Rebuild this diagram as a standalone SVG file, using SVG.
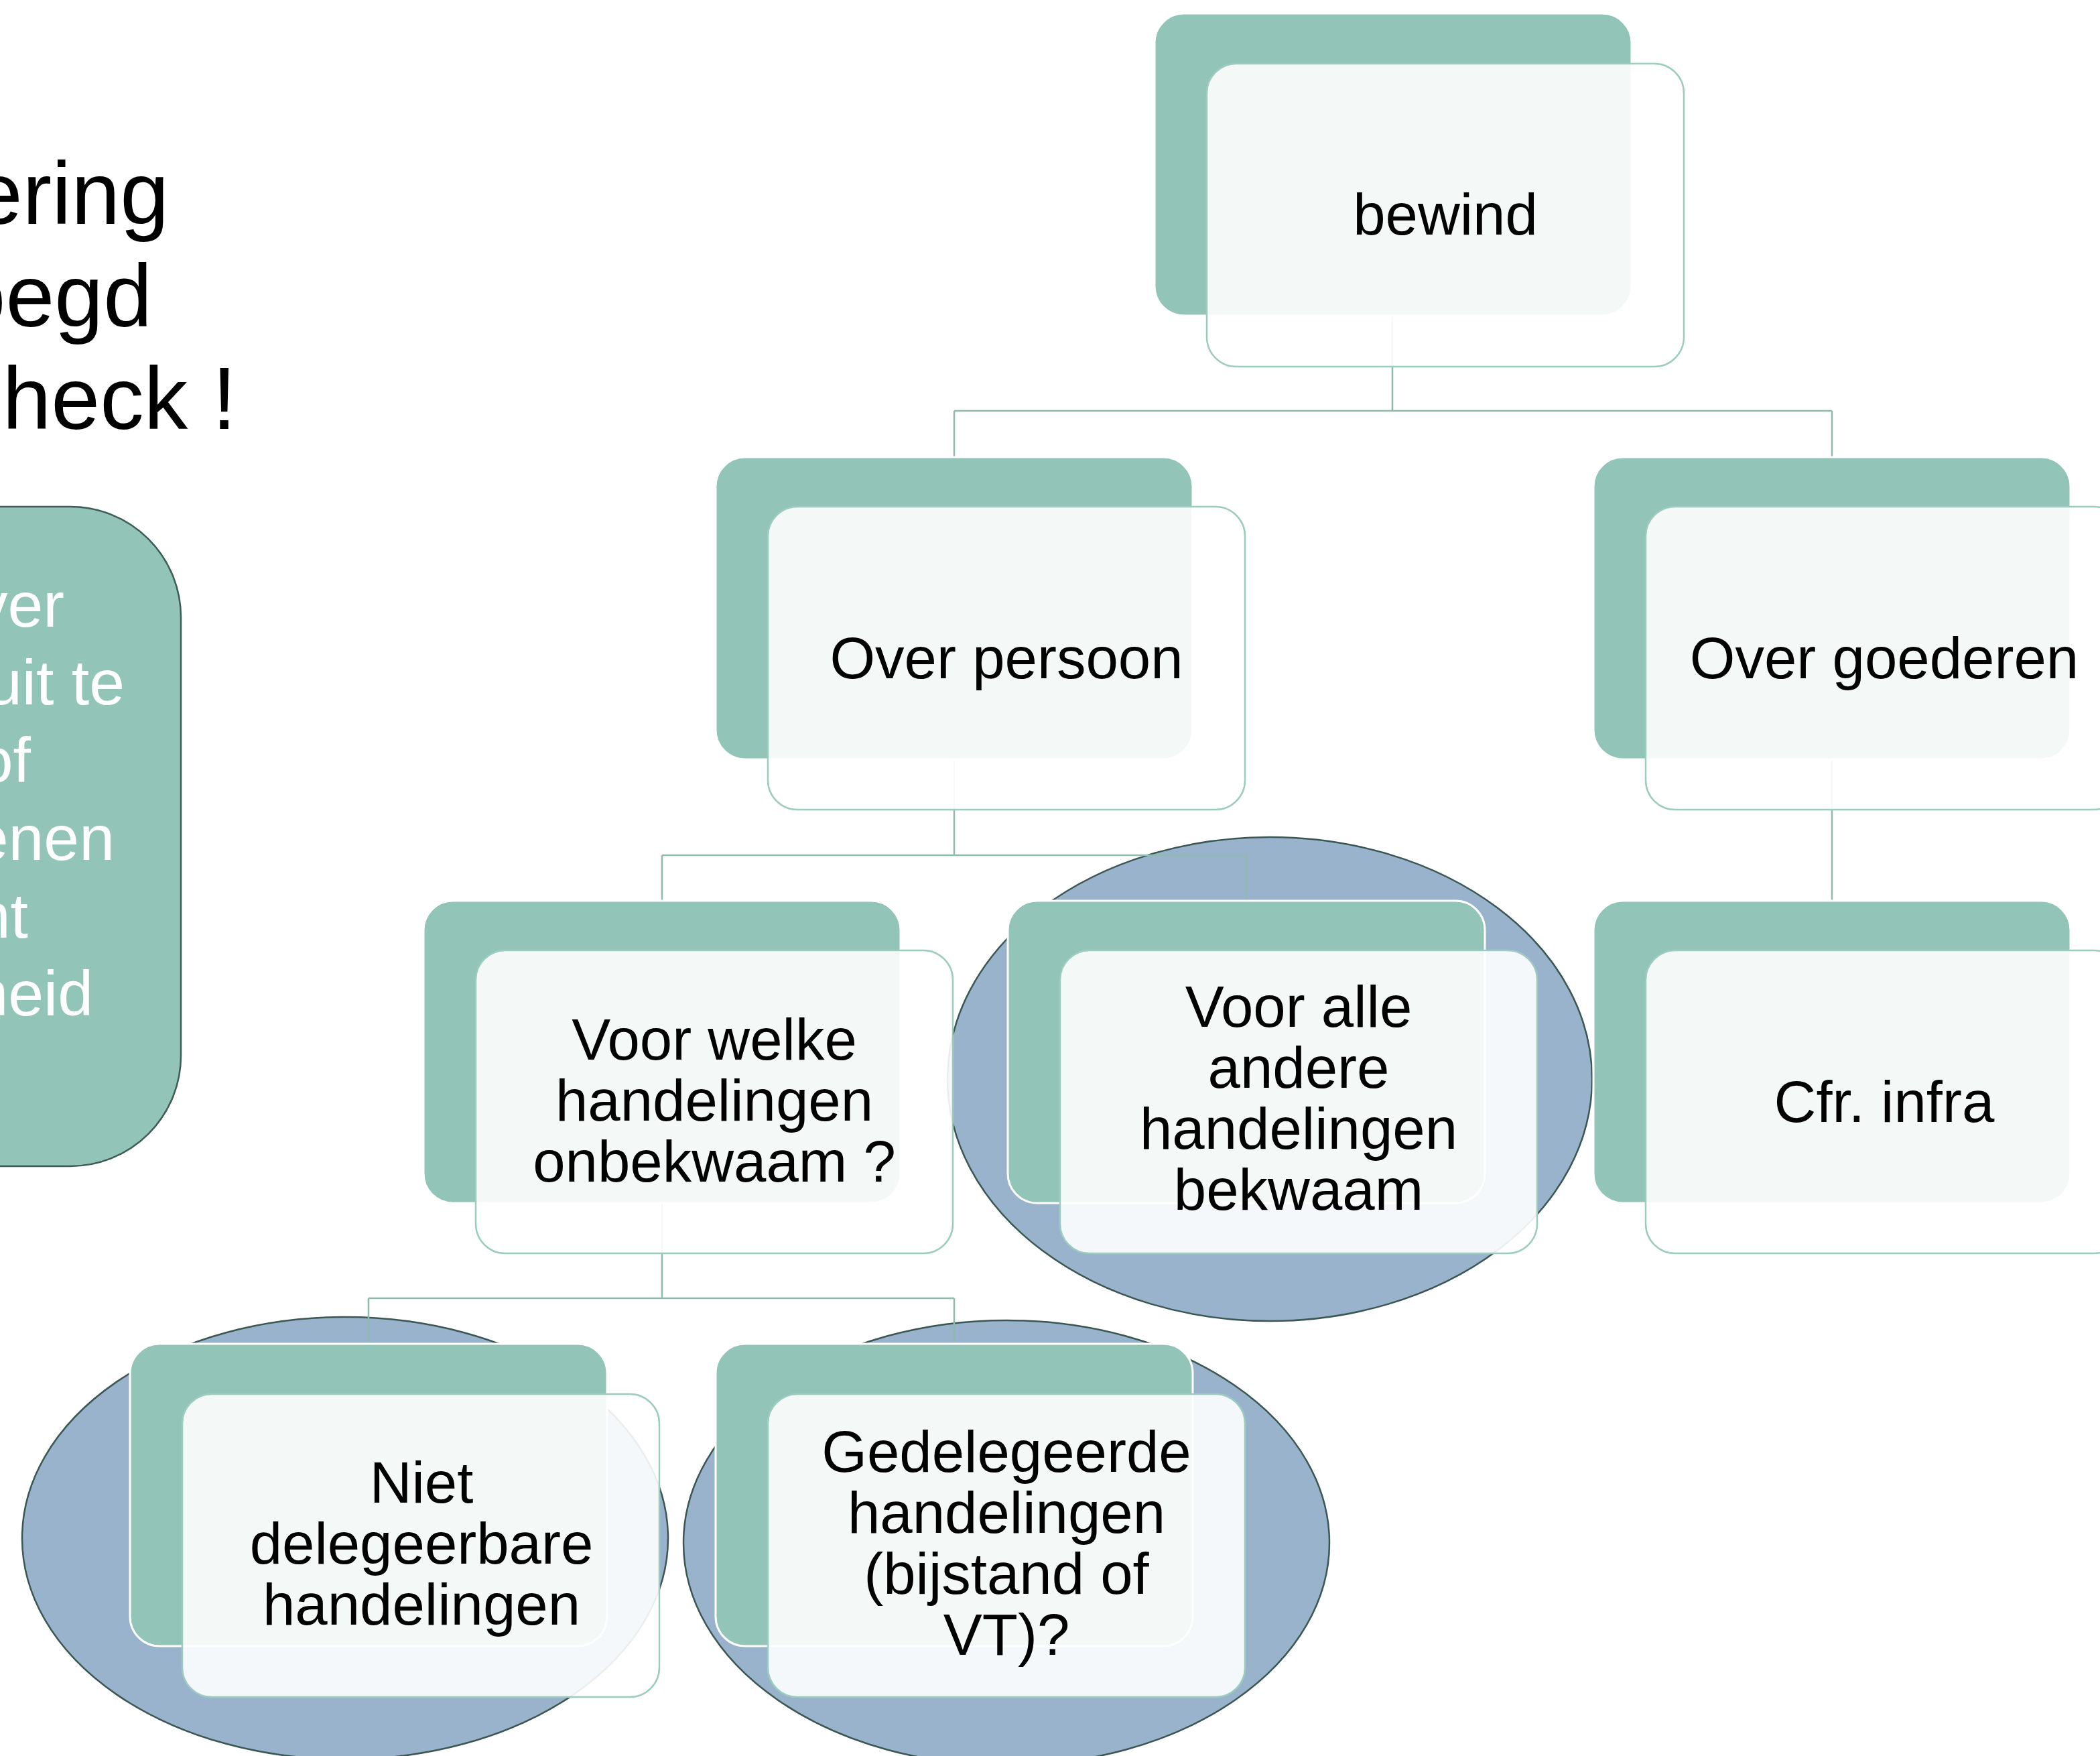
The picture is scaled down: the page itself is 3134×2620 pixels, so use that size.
<svg xmlns="http://www.w3.org/2000/svg" width="3134" height="2620" viewBox="0 0 3134 2620">
<style>
.back{fill:#93C4B8;stroke:#FFFFFF;stroke-width:3}
.front{fill:#FFFFFF;fill-opacity:0.9;stroke:#9CCBC0;stroke-width:2.5}
.lbl{font-family:"Liberation Sans",Arial,sans-serif;font-size:87px;fill:#000000;text-anchor:middle}
.title{font-family:"Liberation Sans",Arial,sans-serif;font-size:131px;fill:#000000;text-anchor:end}
.side{font-family:"Liberation Sans",Arial,sans-serif;font-size:95px;fill:#FFFFFF;text-anchor:end}
.hl{fill:#98B3CB;stroke:#3C5753;stroke-width:2.5}
.conn{fill:none;stroke:#8FBAB0;stroke-width:2.5}
</style>
<rect width="3134" height="2620" fill="#FFFFFF"/>
<g id="title">
<text class="title" x="252" y="334">ering</text>
<text class="title" x="227" y="487">oegd</text>
<text class="title" x="353" y="640">check !</text>
</g>
<g id="side-box">
<rect x="-300" y="756" width="570" height="984" rx="165" ry="165" fill="#93C4B8" stroke="#3E5C58" stroke-width="2.5"/>
<text class="side" x="96" y="935">ver</text>
<text class="side" x="186" y="1051">uit te</text>
<text class="side" x="46" y="1167">of</text>
<text class="side" x="171" y="1283">enen</text>
<text class="side" x="42" y="1399">nt</text>
<text class="side" x="139" y="1515">heid</text>
</g>
<g id="highlights">
<ellipse class="hl" cx="1895" cy="1610" rx="481" ry="361"/>
<ellipse class="hl" cx="515" cy="2295" rx="482" ry="330"/>
<ellipse class="hl" cx="1502" cy="2302" rx="482" ry="332"/>
</g>
<g id="connectors">
<path class="conn" d="M2078 471V613M1424 613H2734M1424 613V682M2734 613V682"/>
<path class="conn" d="M1424 1132V1276M988 1276H1860M988 1276V1344M1860 1276V1344"/>
<path class="conn" d="M2734 1132V1344"/>
<path class="conn" d="M988 1794V1937M550 1937H1424M550 1937V2005M1424 1937V2005"/>
</g>
<g id="node-bewind">
<rect class="back" x="1723" y="20" width="712" height="451" rx="44"/>
<rect class="front" x="1801" y="95" width="712" height="452" rx="44"/>
<text class="lbl" x="2157" y="350">bewind</text>
</g>
<g id="node-over-persoon">
<rect class="back" x="1068" y="682" width="712" height="451" rx="44"/>
<rect class="front" x="1146" y="756" width="712" height="452" rx="44"/>
<text class="lbl" x="1502" y="1012">Over persoon</text>
</g>
<g id="node-over-goederen">
<rect class="back" x="2378" y="682" width="712" height="451" rx="44"/>
<rect class="front" x="2456" y="756" width="712" height="452" rx="44"/>
<text class="lbl" x="2812" y="1012">Over goederen</text>
</g>
<g id="node-voor-welke">
<rect class="back" x="632" y="1344" width="712" height="451" rx="44"/>
<rect class="front" x="710" y="1418" width="712" height="452" rx="44"/>
<text class="lbl" x="1066" y="1581">Voor welke</text>
<text class="lbl" x="1066" y="1672">handelingen</text>
<text class="lbl" x="1066" y="1763">onbekwaam ?</text>
</g>
<g id="node-voor-alle">
<rect class="back" x="1504" y="1344" width="712" height="451" rx="44"/>
<rect class="front" x="1582" y="1418" width="712" height="452" rx="44"/>
<text class="lbl" x="1938" y="1532">Voor alle</text>
<text class="lbl" x="1938" y="1623">andere</text>
<text class="lbl" x="1938" y="1714">handelingen</text>
<text class="lbl" x="1938" y="1805">bekwaam</text>
</g>
<g id="node-cfr-infra">
<rect class="back" x="2378" y="1344" width="712" height="451" rx="44"/>
<rect class="front" x="2456" y="1418" width="712" height="452" rx="44"/>
<text class="lbl" x="2812" y="1674">Cfr. infra</text>
</g>
<g id="node-niet-delegeerbare">
<rect class="back" x="194" y="2005" width="712" height="451" rx="44"/>
<rect class="front" x="272" y="2080" width="712" height="452" rx="44"/>
<text class="lbl" x="629" y="2242">Niet</text>
<text class="lbl" x="629" y="2333">delegeerbare</text>
<text class="lbl" x="629" y="2424">handelingen</text>
</g>
<g id="node-gedelegeerde">
<rect class="back" x="1068" y="2005" width="712" height="451" rx="44"/>
<rect class="front" x="1146" y="2080" width="712" height="452" rx="44"/>
<text class="lbl" x="1502" y="2196">Gedelegeerde</text>
<text class="lbl" x="1502" y="2287">handelingen</text>
<text class="lbl" x="1502" y="2378">(bijstand of</text>
<text class="lbl" x="1502" y="2469">VT)?</text>
</g>
</svg>
